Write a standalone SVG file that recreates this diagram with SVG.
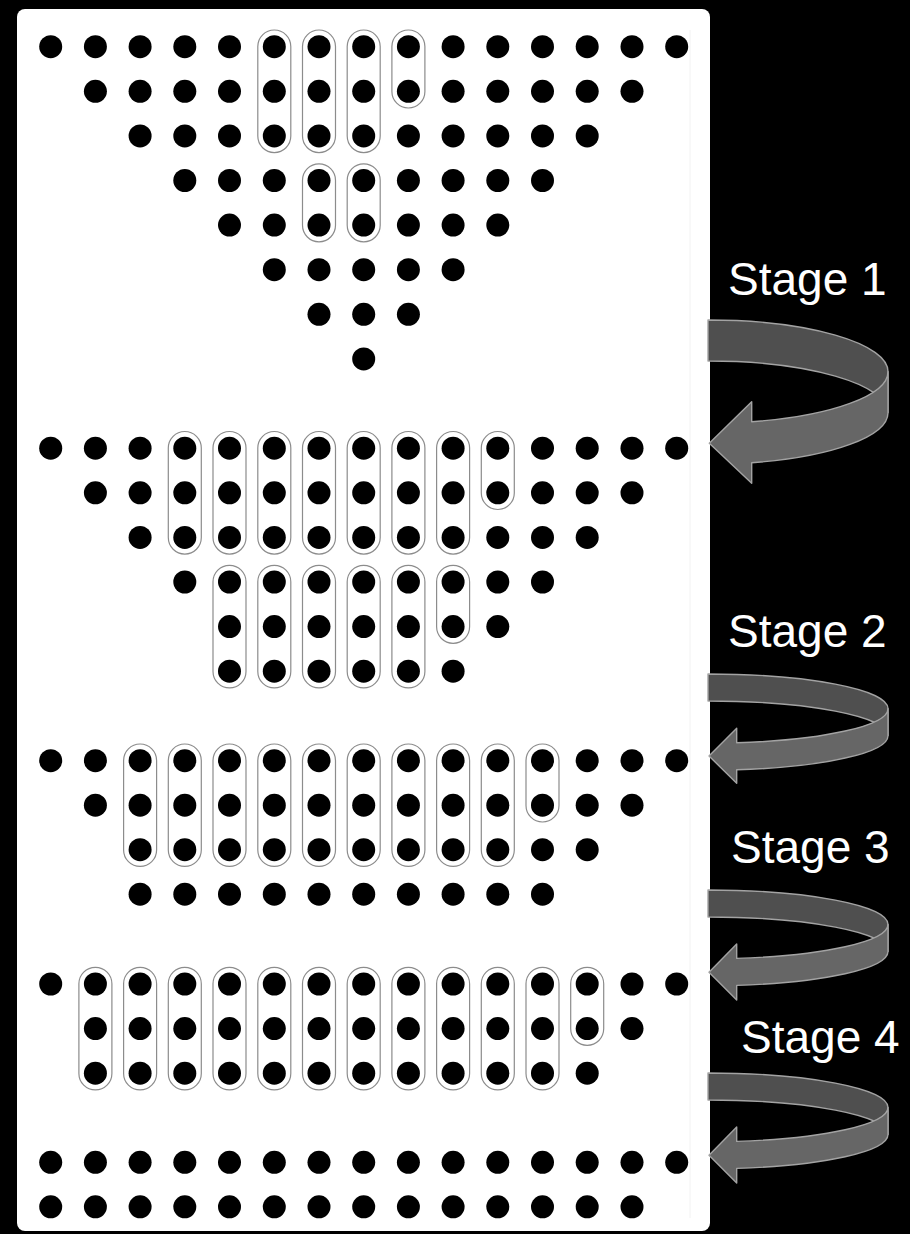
<svg xmlns="http://www.w3.org/2000/svg" xmlns:xlink="http://www.w3.org/1999/xlink" width="910" height="1234" viewBox="0 0 910 1234">
<style>
.ov{fill:none;stroke:#8c8c8c;stroke-width:1.2}
.back{fill:#4f4f4f;stroke:#a3a3a3;stroke-width:1.4;stroke-linejoin:round}
.front{fill:#666666;stroke:#a3a3a3;stroke-width:1.4;stroke-linejoin:round}
.lbl{font-family:"Liberation Sans",Arial,sans-serif;font-size:46px;fill:#ffffff}
</style>
<defs>
<circle id="d" cx="0" cy="0" r="11.5" fill="#000"/>
</defs>
<rect x="0" y="0" width="910" height="1234" fill="#000"/>
<rect x="17" y="9" width="693" height="1222" rx="8" fill="#fff"/>
<line x1="690" y1="30" x2="690" y2="1218" stroke="#f2f2f2" stroke-width="1"/>

<g id="block-initial">
<use href="#d" x="50.7" y="46.7"/><use href="#d" x="95.4" y="46.7"/><use href="#d" x="140.1" y="46.7"/><use href="#d" x="184.8" y="46.7"/><use href="#d" x="229.5" y="46.7"/><use href="#d" x="274.3" y="46.7"/><use href="#d" x="319" y="46.7"/><use href="#d" x="363.7" y="46.7"/><use href="#d" x="408.4" y="46.7"/><use href="#d" x="453.1" y="46.7"/><use href="#d" x="497.8" y="46.7"/><use href="#d" x="542.5" y="46.7"/><use href="#d" x="587.2" y="46.7"/><use href="#d" x="632" y="46.7"/><use href="#d" x="676.7" y="46.7"/>
<use href="#d" x="95.4" y="91.3"/><use href="#d" x="140.1" y="91.3"/><use href="#d" x="184.8" y="91.3"/><use href="#d" x="229.5" y="91.3"/><use href="#d" x="274.3" y="91.3"/><use href="#d" x="319" y="91.3"/><use href="#d" x="363.7" y="91.3"/><use href="#d" x="408.4" y="91.3"/><use href="#d" x="453.1" y="91.3"/><use href="#d" x="497.8" y="91.3"/><use href="#d" x="542.5" y="91.3"/><use href="#d" x="587.2" y="91.3"/><use href="#d" x="632" y="91.3"/>
<use href="#d" x="140.1" y="135.9"/><use href="#d" x="184.8" y="135.9"/><use href="#d" x="229.5" y="135.9"/><use href="#d" x="274.3" y="135.9"/><use href="#d" x="319" y="135.9"/><use href="#d" x="363.7" y="135.9"/><use href="#d" x="408.4" y="135.9"/><use href="#d" x="453.1" y="135.9"/><use href="#d" x="497.8" y="135.9"/><use href="#d" x="542.5" y="135.9"/><use href="#d" x="587.2" y="135.9"/>
<use href="#d" x="184.8" y="180.5"/><use href="#d" x="229.5" y="180.5"/><use href="#d" x="274.3" y="180.5"/><use href="#d" x="319" y="180.5"/><use href="#d" x="363.7" y="180.5"/><use href="#d" x="408.4" y="180.5"/><use href="#d" x="453.1" y="180.5"/><use href="#d" x="497.8" y="180.5"/><use href="#d" x="542.5" y="180.5"/>
<use href="#d" x="229.5" y="225.1"/><use href="#d" x="274.3" y="225.1"/><use href="#d" x="319" y="225.1"/><use href="#d" x="363.7" y="225.1"/><use href="#d" x="408.4" y="225.1"/><use href="#d" x="453.1" y="225.1"/><use href="#d" x="497.8" y="225.1"/>
<use href="#d" x="274.3" y="269.7"/><use href="#d" x="319" y="269.7"/><use href="#d" x="363.7" y="269.7"/><use href="#d" x="408.4" y="269.7"/><use href="#d" x="453.1" y="269.7"/>
<use href="#d" x="319" y="314.3"/><use href="#d" x="363.7" y="314.3"/><use href="#d" x="408.4" y="314.3"/>
<use href="#d" x="363.7" y="358.9"/>
<rect class="ov" x="257.8" y="30" width="33" height="122.6" rx="16.5"/>
<rect class="ov" x="302.5" y="30" width="33" height="122.6" rx="16.5"/>
<rect class="ov" x="347.2" y="30" width="33" height="122.6" rx="16.5"/>
<rect class="ov" x="391.9" y="30" width="33" height="78" rx="16.5"/>
<rect class="ov" x="302.5" y="163.8" width="33" height="78" rx="16.5"/>
<rect class="ov" x="347.2" y="163.8" width="33" height="78" rx="16.5"/>
</g>

<g id="block-stage1">
<use href="#d" x="50.7" y="448.2"/><use href="#d" x="95.4" y="448.2"/><use href="#d" x="140.1" y="448.2"/><use href="#d" x="184.8" y="448.2"/><use href="#d" x="229.5" y="448.2"/><use href="#d" x="274.3" y="448.2"/><use href="#d" x="319" y="448.2"/><use href="#d" x="363.7" y="448.2"/><use href="#d" x="408.4" y="448.2"/><use href="#d" x="453.1" y="448.2"/><use href="#d" x="497.8" y="448.2"/><use href="#d" x="542.5" y="448.2"/><use href="#d" x="587.2" y="448.2"/><use href="#d" x="632" y="448.2"/><use href="#d" x="676.7" y="448.2"/>
<use href="#d" x="95.4" y="492.8"/><use href="#d" x="140.1" y="492.8"/><use href="#d" x="184.8" y="492.8"/><use href="#d" x="229.5" y="492.8"/><use href="#d" x="274.3" y="492.8"/><use href="#d" x="319" y="492.8"/><use href="#d" x="363.7" y="492.8"/><use href="#d" x="408.4" y="492.8"/><use href="#d" x="453.1" y="492.8"/><use href="#d" x="497.8" y="492.8"/><use href="#d" x="542.5" y="492.8"/><use href="#d" x="587.2" y="492.8"/><use href="#d" x="632" y="492.8"/>
<use href="#d" x="140.1" y="537.4"/><use href="#d" x="184.8" y="537.4"/><use href="#d" x="229.5" y="537.4"/><use href="#d" x="274.3" y="537.4"/><use href="#d" x="319" y="537.4"/><use href="#d" x="363.7" y="537.4"/><use href="#d" x="408.4" y="537.4"/><use href="#d" x="453.1" y="537.4"/><use href="#d" x="497.8" y="537.4"/><use href="#d" x="542.5" y="537.4"/><use href="#d" x="587.2" y="537.4"/>
<use href="#d" x="184.8" y="582"/><use href="#d" x="229.5" y="582"/><use href="#d" x="274.3" y="582"/><use href="#d" x="319" y="582"/><use href="#d" x="363.7" y="582"/><use href="#d" x="408.4" y="582"/><use href="#d" x="453.1" y="582"/><use href="#d" x="497.8" y="582"/><use href="#d" x="542.5" y="582"/>
<use href="#d" x="229.5" y="626.6"/><use href="#d" x="274.3" y="626.6"/><use href="#d" x="319" y="626.6"/><use href="#d" x="363.7" y="626.6"/><use href="#d" x="408.4" y="626.6"/><use href="#d" x="453.1" y="626.6"/><use href="#d" x="497.8" y="626.6"/>
<use href="#d" x="229.5" y="671.2"/><use href="#d" x="274.3" y="671.2"/><use href="#d" x="319" y="671.2"/><use href="#d" x="363.7" y="671.2"/><use href="#d" x="408.4" y="671.2"/><use href="#d" x="453.1" y="671.2"/>
<rect class="ov" x="168.3" y="431.5" width="33" height="122.6" rx="16.5"/>
<rect class="ov" x="213" y="431.5" width="33" height="122.6" rx="16.5"/>
<rect class="ov" x="257.8" y="431.5" width="33" height="122.6" rx="16.5"/>
<rect class="ov" x="302.5" y="431.5" width="33" height="122.6" rx="16.5"/>
<rect class="ov" x="347.2" y="431.5" width="33" height="122.6" rx="16.5"/>
<rect class="ov" x="391.9" y="431.5" width="33" height="122.6" rx="16.5"/>
<rect class="ov" x="436.6" y="431.5" width="33" height="122.6" rx="16.5"/>
<rect class="ov" x="481.3" y="431.5" width="33" height="78" rx="16.5"/>
<rect class="ov" x="213" y="565.3" width="33" height="122.6" rx="16.5"/>
<rect class="ov" x="257.8" y="565.3" width="33" height="122.6" rx="16.5"/>
<rect class="ov" x="302.5" y="565.3" width="33" height="122.6" rx="16.5"/>
<rect class="ov" x="347.2" y="565.3" width="33" height="122.6" rx="16.5"/>
<rect class="ov" x="391.9" y="565.3" width="33" height="122.6" rx="16.5"/>
<rect class="ov" x="436.6" y="565.3" width="33" height="78" rx="16.5"/>
</g>

<g id="block-stage2">
<use href="#d" x="50.7" y="760.7"/><use href="#d" x="95.4" y="760.7"/><use href="#d" x="140.1" y="760.7"/><use href="#d" x="184.8" y="760.7"/><use href="#d" x="229.5" y="760.7"/><use href="#d" x="274.3" y="760.7"/><use href="#d" x="319" y="760.7"/><use href="#d" x="363.7" y="760.7"/><use href="#d" x="408.4" y="760.7"/><use href="#d" x="453.1" y="760.7"/><use href="#d" x="497.8" y="760.7"/><use href="#d" x="542.5" y="760.7"/><use href="#d" x="587.2" y="760.7"/><use href="#d" x="632" y="760.7"/><use href="#d" x="676.7" y="760.7"/>
<use href="#d" x="95.4" y="805.2"/><use href="#d" x="140.1" y="805.2"/><use href="#d" x="184.8" y="805.2"/><use href="#d" x="229.5" y="805.2"/><use href="#d" x="274.3" y="805.2"/><use href="#d" x="319" y="805.2"/><use href="#d" x="363.7" y="805.2"/><use href="#d" x="408.4" y="805.2"/><use href="#d" x="453.1" y="805.2"/><use href="#d" x="497.8" y="805.2"/><use href="#d" x="542.5" y="805.2"/><use href="#d" x="587.2" y="805.2"/><use href="#d" x="632" y="805.2"/>
<use href="#d" x="140.1" y="849.7"/><use href="#d" x="184.8" y="849.7"/><use href="#d" x="229.5" y="849.7"/><use href="#d" x="274.3" y="849.7"/><use href="#d" x="319" y="849.7"/><use href="#d" x="363.7" y="849.7"/><use href="#d" x="408.4" y="849.7"/><use href="#d" x="453.1" y="849.7"/><use href="#d" x="497.8" y="849.7"/><use href="#d" x="542.5" y="849.7"/><use href="#d" x="587.2" y="849.7"/>
<use href="#d" x="140.1" y="894.2"/><use href="#d" x="184.8" y="894.2"/><use href="#d" x="229.5" y="894.2"/><use href="#d" x="274.3" y="894.2"/><use href="#d" x="319" y="894.2"/><use href="#d" x="363.7" y="894.2"/><use href="#d" x="408.4" y="894.2"/><use href="#d" x="453.1" y="894.2"/><use href="#d" x="497.8" y="894.2"/><use href="#d" x="542.5" y="894.2"/>
<rect class="ov" x="123.6" y="744" width="33" height="122.4" rx="16.5"/>
<rect class="ov" x="168.3" y="744" width="33" height="122.4" rx="16.5"/>
<rect class="ov" x="213" y="744" width="33" height="122.4" rx="16.5"/>
<rect class="ov" x="257.8" y="744" width="33" height="122.4" rx="16.5"/>
<rect class="ov" x="302.5" y="744" width="33" height="122.4" rx="16.5"/>
<rect class="ov" x="347.2" y="744" width="33" height="122.4" rx="16.5"/>
<rect class="ov" x="391.9" y="744" width="33" height="122.4" rx="16.5"/>
<rect class="ov" x="436.6" y="744" width="33" height="122.4" rx="16.5"/>
<rect class="ov" x="481.3" y="744" width="33" height="122.4" rx="16.5"/>
<rect class="ov" x="526" y="744" width="33" height="78" rx="16.5"/>
</g>

<g id="block-stage3">
<use href="#d" x="50.7" y="984"/><use href="#d" x="95.4" y="984"/><use href="#d" x="140.1" y="984"/><use href="#d" x="184.8" y="984"/><use href="#d" x="229.5" y="984"/><use href="#d" x="274.3" y="984"/><use href="#d" x="319" y="984"/><use href="#d" x="363.7" y="984"/><use href="#d" x="408.4" y="984"/><use href="#d" x="453.1" y="984"/><use href="#d" x="497.8" y="984"/><use href="#d" x="542.5" y="984"/><use href="#d" x="587.2" y="984"/><use href="#d" x="632" y="984"/><use href="#d" x="676.7" y="984"/>
<use href="#d" x="95.4" y="1028.6"/><use href="#d" x="140.1" y="1028.6"/><use href="#d" x="184.8" y="1028.6"/><use href="#d" x="229.5" y="1028.6"/><use href="#d" x="274.3" y="1028.6"/><use href="#d" x="319" y="1028.6"/><use href="#d" x="363.7" y="1028.6"/><use href="#d" x="408.4" y="1028.6"/><use href="#d" x="453.1" y="1028.6"/><use href="#d" x="497.8" y="1028.6"/><use href="#d" x="542.5" y="1028.6"/><use href="#d" x="587.2" y="1028.6"/><use href="#d" x="632" y="1028.6"/>
<use href="#d" x="95.4" y="1073.2"/><use href="#d" x="140.1" y="1073.2"/><use href="#d" x="184.8" y="1073.2"/><use href="#d" x="229.5" y="1073.2"/><use href="#d" x="274.3" y="1073.2"/><use href="#d" x="319" y="1073.2"/><use href="#d" x="363.7" y="1073.2"/><use href="#d" x="408.4" y="1073.2"/><use href="#d" x="453.1" y="1073.2"/><use href="#d" x="497.8" y="1073.2"/><use href="#d" x="542.5" y="1073.2"/><use href="#d" x="587.2" y="1073.2"/>
<rect class="ov" x="78.9" y="967.3" width="33" height="122.6" rx="16.5"/>
<rect class="ov" x="123.6" y="967.3" width="33" height="122.6" rx="16.5"/>
<rect class="ov" x="168.3" y="967.3" width="33" height="122.6" rx="16.5"/>
<rect class="ov" x="213" y="967.3" width="33" height="122.6" rx="16.5"/>
<rect class="ov" x="257.8" y="967.3" width="33" height="122.6" rx="16.5"/>
<rect class="ov" x="302.5" y="967.3" width="33" height="122.6" rx="16.5"/>
<rect class="ov" x="347.2" y="967.3" width="33" height="122.6" rx="16.5"/>
<rect class="ov" x="391.9" y="967.3" width="33" height="122.6" rx="16.5"/>
<rect class="ov" x="436.6" y="967.3" width="33" height="122.6" rx="16.5"/>
<rect class="ov" x="481.3" y="967.3" width="33" height="122.6" rx="16.5"/>
<rect class="ov" x="526" y="967.3" width="33" height="122.6" rx="16.5"/>
<rect class="ov" x="570.7" y="967.3" width="33" height="78" rx="16.5"/>
</g>

<g id="block-final">
<use href="#d" x="50.7" y="1162.3"/><use href="#d" x="95.4" y="1162.3"/><use href="#d" x="140.1" y="1162.3"/><use href="#d" x="184.8" y="1162.3"/><use href="#d" x="229.5" y="1162.3"/><use href="#d" x="274.3" y="1162.3"/><use href="#d" x="319" y="1162.3"/><use href="#d" x="363.7" y="1162.3"/><use href="#d" x="408.4" y="1162.3"/><use href="#d" x="453.1" y="1162.3"/><use href="#d" x="497.8" y="1162.3"/><use href="#d" x="542.5" y="1162.3"/><use href="#d" x="587.2" y="1162.3"/><use href="#d" x="632" y="1162.3"/><use href="#d" x="676.7" y="1162.3"/>
<use href="#d" x="50.7" y="1206.8"/><use href="#d" x="95.4" y="1206.8"/><use href="#d" x="140.1" y="1206.8"/><use href="#d" x="184.8" y="1206.8"/><use href="#d" x="229.5" y="1206.8"/><use href="#d" x="274.3" y="1206.8"/><use href="#d" x="319" y="1206.8"/><use href="#d" x="363.7" y="1206.8"/><use href="#d" x="408.4" y="1206.8"/><use href="#d" x="453.1" y="1206.8"/><use href="#d" x="497.8" y="1206.8"/><use href="#d" x="542.5" y="1206.8"/><use href="#d" x="587.2" y="1206.8"/><use href="#d" x="632" y="1206.8"/>
</g>

<g id="connectors">
<g id="arrow-stage1">
<path class="back" d="M708,320 A180,51.6 0 0 1 888,371.6 L888,412.6 A180,51.6 0 0 0 708,361 Z"/>
<path class="front" d="M888,371.6 A180,51.6 0 0 1 751.7,421.7 L751.7,401.7 L709.3,443.3 L751.7,483.3 L751.7,462.7 A180,51.6 0 0 0 888,412.6 Z"/>
</g>
<g id="arrow-stage2">
<path class="back" d="M708,674 A180,34.6 0 0 1 888,708.6 L888,735.6 A180,34.6 0 0 0 708,701 Z"/>
<path class="front" d="M888,708.6 A180,34.6 0 0 1 736.7,742.8 L736.7,728.3 L709,756 L736.7,783.3 L736.7,769.8 A180,34.6 0 0 0 888,735.6 Z"/>
</g>
<g id="arrow-stage3">
<path class="back" d="M708,890 A180,34.4 0 0 1 888,924.4 L888,951.4 A180,34.4 0 0 0 708,917 Z"/>
<path class="front" d="M888,924.4 A180,34.4 0 0 1 736.7,958.4 L736.7,944 L709,972.3 L736.7,1000 L736.7,985.4 A180,34.4 0 0 0 888,951.4 Z"/>
</g>
<g id="arrow-stage4">
<path class="back" d="M708,1073 A180,34.4 0 0 1 888,1107.4 L888,1134.4 A180,34.4 0 0 0 708,1100 Z"/>
<path class="front" d="M888,1107.4 A180,34.4 0 0 1 736.7,1141.4 L736.7,1127 L709,1155.3 L736.7,1183 L736.7,1168.4 A180,34.4 0 0 0 888,1134.4 Z"/>
</g>
</g>

<g id="labels">
<text class="lbl" x="728" y="295">Stage 1</text>
<text class="lbl" x="728" y="647">Stage 2</text>
<text class="lbl" x="731" y="863">Stage 3</text>
<text class="lbl" x="741" y="1053">Stage 4</text>
</g>
</svg>
